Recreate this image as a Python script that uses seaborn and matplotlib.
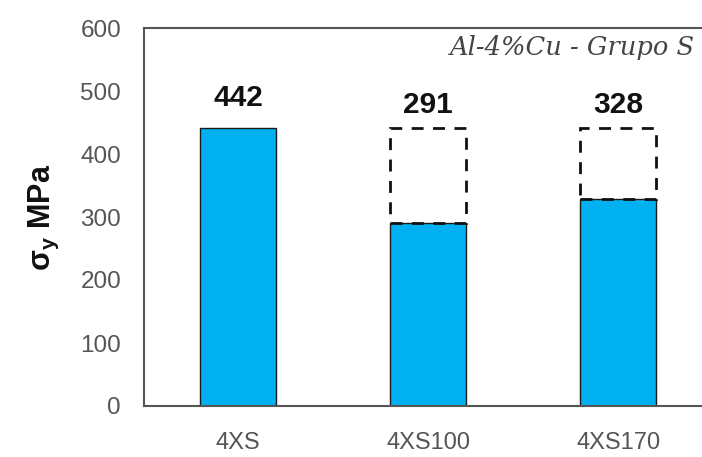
import matplotlib
matplotlib.use("Agg")
import matplotlib.pyplot as plt
import seaborn as sns

# Data
categories = ["4XS", "4XS100", "4XS170"]
sigma_y = [442, 291, 328]
reference = 442          # as-received value, shown as dashed outline
dashed_idx = [1, 2]

# Styling
sns.set_style("white")
plt.rcParams["font.family"] = ["Liberation Sans", "DejaVu Sans"]
plt.rcParams["mathtext.fontset"] = "custom"
plt.rcParams["mathtext.bf"] = "Liberation Sans:bold"
plt.rcParams["mathtext.default"] = "bf"

fig = plt.figure(figsize=(7.02, 4.57), dpi=100)
ax = fig.add_axes([144 / 702, 51 / 457, 558 / 702, 378 / 457])

sns.barplot(x=categories, y=sigma_y, color="#00B0F0", saturation=1,
            width=0.4, edgecolor="#1a1a1a", linewidth=1.0, ax=ax)

# dashed outline up to reference level
for i in dashed_idx:
    ax.bar(i, reference - sigma_y[i], bottom=sigma_y[i], width=0.4,
           fill=False, edgecolor="#111111", linewidth=2.0,
           linestyle=(0, (4.3, 3.4)), zorder=3)

# value labels
for i, v in enumerate(sigma_y):
    off = 11 if i == 0 else 6
    ax.annotate(str(v), (i, reference), xytext=(0, off), textcoords="offset points",
                ha="center", va="bottom", fontsize=21.5, fontweight="bold", color="#111111")

ax.set_ylim(0, 600)
ax.set_xlim(-0.495, 2.44)
ax.set_yticks(range(0, 601, 100))

for s in ["left", "bottom", "top"]:
    ax.spines[s].set_color("#555555")
    ax.spines[s].set_linewidth(1.5)
ax.spines["right"].set_visible(False)

ax.tick_params(axis="y", direction="inout", length=9, width=1.2, color="#555555",
               labelsize=17.5, labelcolor="#555555", pad=12)
ax.tick_params(axis="x", length=0, labelsize=17, labelcolor="#555555", pad=19)

ax.set_ylabel("σ$_{y}$ MPa", fontsize=22, fontweight="bold", color="#111111", labelpad=14)
ax.set_xlabel("")

fig.text(450 / 702, 1 - 47 / 457, "Al-4%Cu - Grupo S", fontsize=18.5, style="italic",
         family="DejaVu Serif", color="#444444", va="center", ha="left")

fig.savefig("out.png", dpi=100)
